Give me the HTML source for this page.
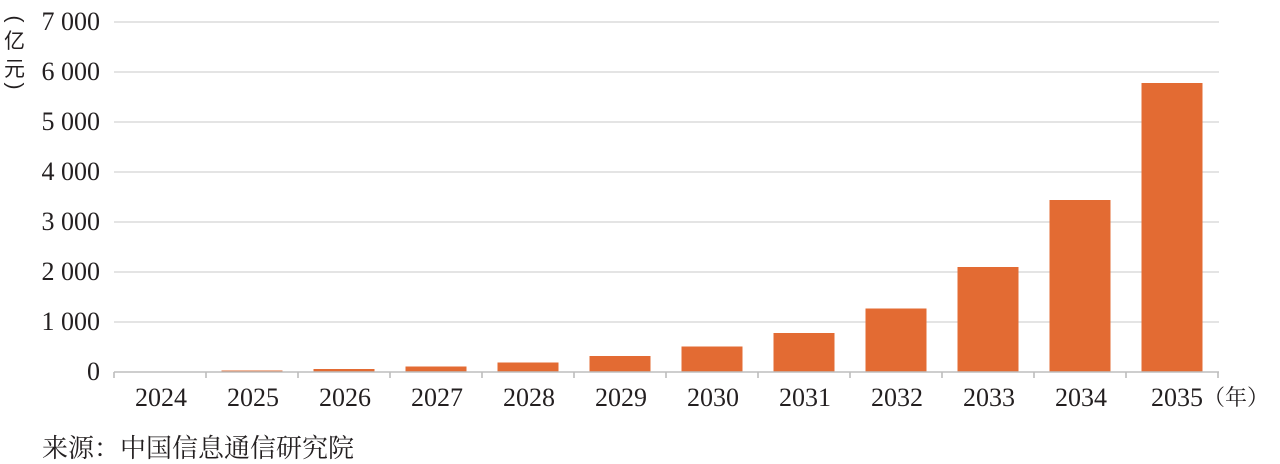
<!DOCTYPE html>
<html>
<head>
<meta charset="utf-8">
<style>
  html,body{margin:0;padding:0;background:#fff;}
  svg{display:block;}
  .num{font-family:"Liberation Serif","Noto Serif CJK SC",serif;font-size:26px;fill:#231f20;}
  .cjk{font-family:"Liberation Serif","Noto Serif CJK SC",serif;fill:#231f20;}
  .unit{font-family:"Liberation Sans","Noto Sans CJK SC",sans-serif;font-size:21px;fill:#231f20;}
</style>
</head>
<body>
<svg width="1280" height="464" viewBox="0 0 1280 464" xmlns="http://www.w3.org/2000/svg">
  <!-- gridlines -->
  <g stroke="#dcdcdc" stroke-width="1.6">
    <line x1="114" y1="22" x2="1219" y2="22"/>
    <line x1="114" y1="72" x2="1219" y2="72"/>
    <line x1="114" y1="122" x2="1219" y2="122"/>
    <line x1="114" y1="172" x2="1219" y2="172"/>
    <line x1="114" y1="222" x2="1219" y2="222"/>
    <line x1="114" y1="272" x2="1219" y2="272"/>
    <line x1="114" y1="322" x2="1219" y2="322"/>
  </g>
  <!-- bars -->
  <g fill="#e36b33">
    <rect x="129.5" y="371.5" width="61" height="0.5"/>
    <rect x="221.5" y="370.5" width="61" height="1.5"/>
    <rect x="313.5" y="369" width="61" height="3"/>
    <rect x="405.5" y="366.5" width="61" height="5.5"/>
    <rect x="497.5" y="362.5" width="61" height="9.5"/>
    <rect x="589.5" y="356" width="61" height="16"/>
    <rect x="681.5" y="346.5" width="61" height="25.5"/>
    <rect x="773.5" y="333" width="61" height="39"/>
    <rect x="865.5" y="308.5" width="61" height="63.5"/>
    <rect x="957.5" y="267" width="61" height="105"/>
    <rect x="1049.5" y="200" width="61" height="172"/>
    <rect x="1141.5" y="83" width="61" height="289"/>
  </g>
  <!-- axis -->
  <g stroke="#bdbdbd" stroke-width="1.6">
    <line x1="114" y1="372" x2="1219" y2="372"/>
    <line x1="114" y1="372" x2="114" y2="378"/>
    <line x1="206" y1="372" x2="206" y2="378"/>
    <line x1="298" y1="372" x2="298" y2="378"/>
    <line x1="390" y1="372" x2="390" y2="378"/>
    <line x1="482" y1="372" x2="482" y2="378"/>
    <line x1="574" y1="372" x2="574" y2="378"/>
    <line x1="666" y1="372" x2="666" y2="378"/>
    <line x1="758" y1="372" x2="758" y2="378"/>
    <line x1="850" y1="372" x2="850" y2="378"/>
    <line x1="942" y1="372" x2="942" y2="378"/>
    <line x1="1034" y1="372" x2="1034" y2="378"/>
    <line x1="1126" y1="372" x2="1126" y2="378"/>
    <line x1="1218" y1="372" x2="1218" y2="378"/>
  </g>
  <!-- y labels -->
  <g class="num" text-anchor="end">
    <text x="100" y="30">7 000</text>
    <text x="100" y="80">6 000</text>
    <text x="100" y="130">5 000</text>
    <text x="100" y="180">4 000</text>
    <text x="100" y="230">3 000</text>
    <text x="100" y="280">2 000</text>
    <text x="100" y="330">1 000</text>
    <text x="100" y="380">0</text>
  </g>
  <!-- x labels -->
  <g class="num" text-anchor="middle">
    <text x="161" y="406">2024</text>
    <text x="253" y="406">2025</text>
    <text x="345" y="406">2026</text>
    <text x="437" y="406">2027</text>
    <text x="529" y="406">2028</text>
    <text x="621" y="406">2029</text>
    <text x="713" y="406">2030</text>
    <text x="805" y="406">2031</text>
    <text x="897" y="406">2032</text>
    <text x="989" y="406">2033</text>
    <text x="1081" y="406">2034</text>
    <text x="1177" y="406">2035</text>
  </g>
  <text class="cjk" x="1203" y="405" font-size="22" font-family="Noto Serif CJK SC, Noto Sans CJK SC, serif">（年）</text>
  <!-- y unit vertical -->
  <g class="unit" text-anchor="middle">
    <text x="14.5" y="25" transform="rotate(90 14.5 19)">(</text>
    <text x="14.5" y="48" font-family="Noto Sans CJK SC, sans-serif">亿</text>
    <text x="14.5" y="76" font-family="Noto Sans CJK SC, sans-serif">元</text>
    <text x="14.5" y="92" transform="rotate(90 14.5 86)">)</text>
  </g>
  <!-- source -->
  <text class="cjk" x="42" y="457" font-size="26" font-family="Noto Serif CJK SC, serif">来源：中国信息通信研究院</text>
</svg>
</body>
</html>
